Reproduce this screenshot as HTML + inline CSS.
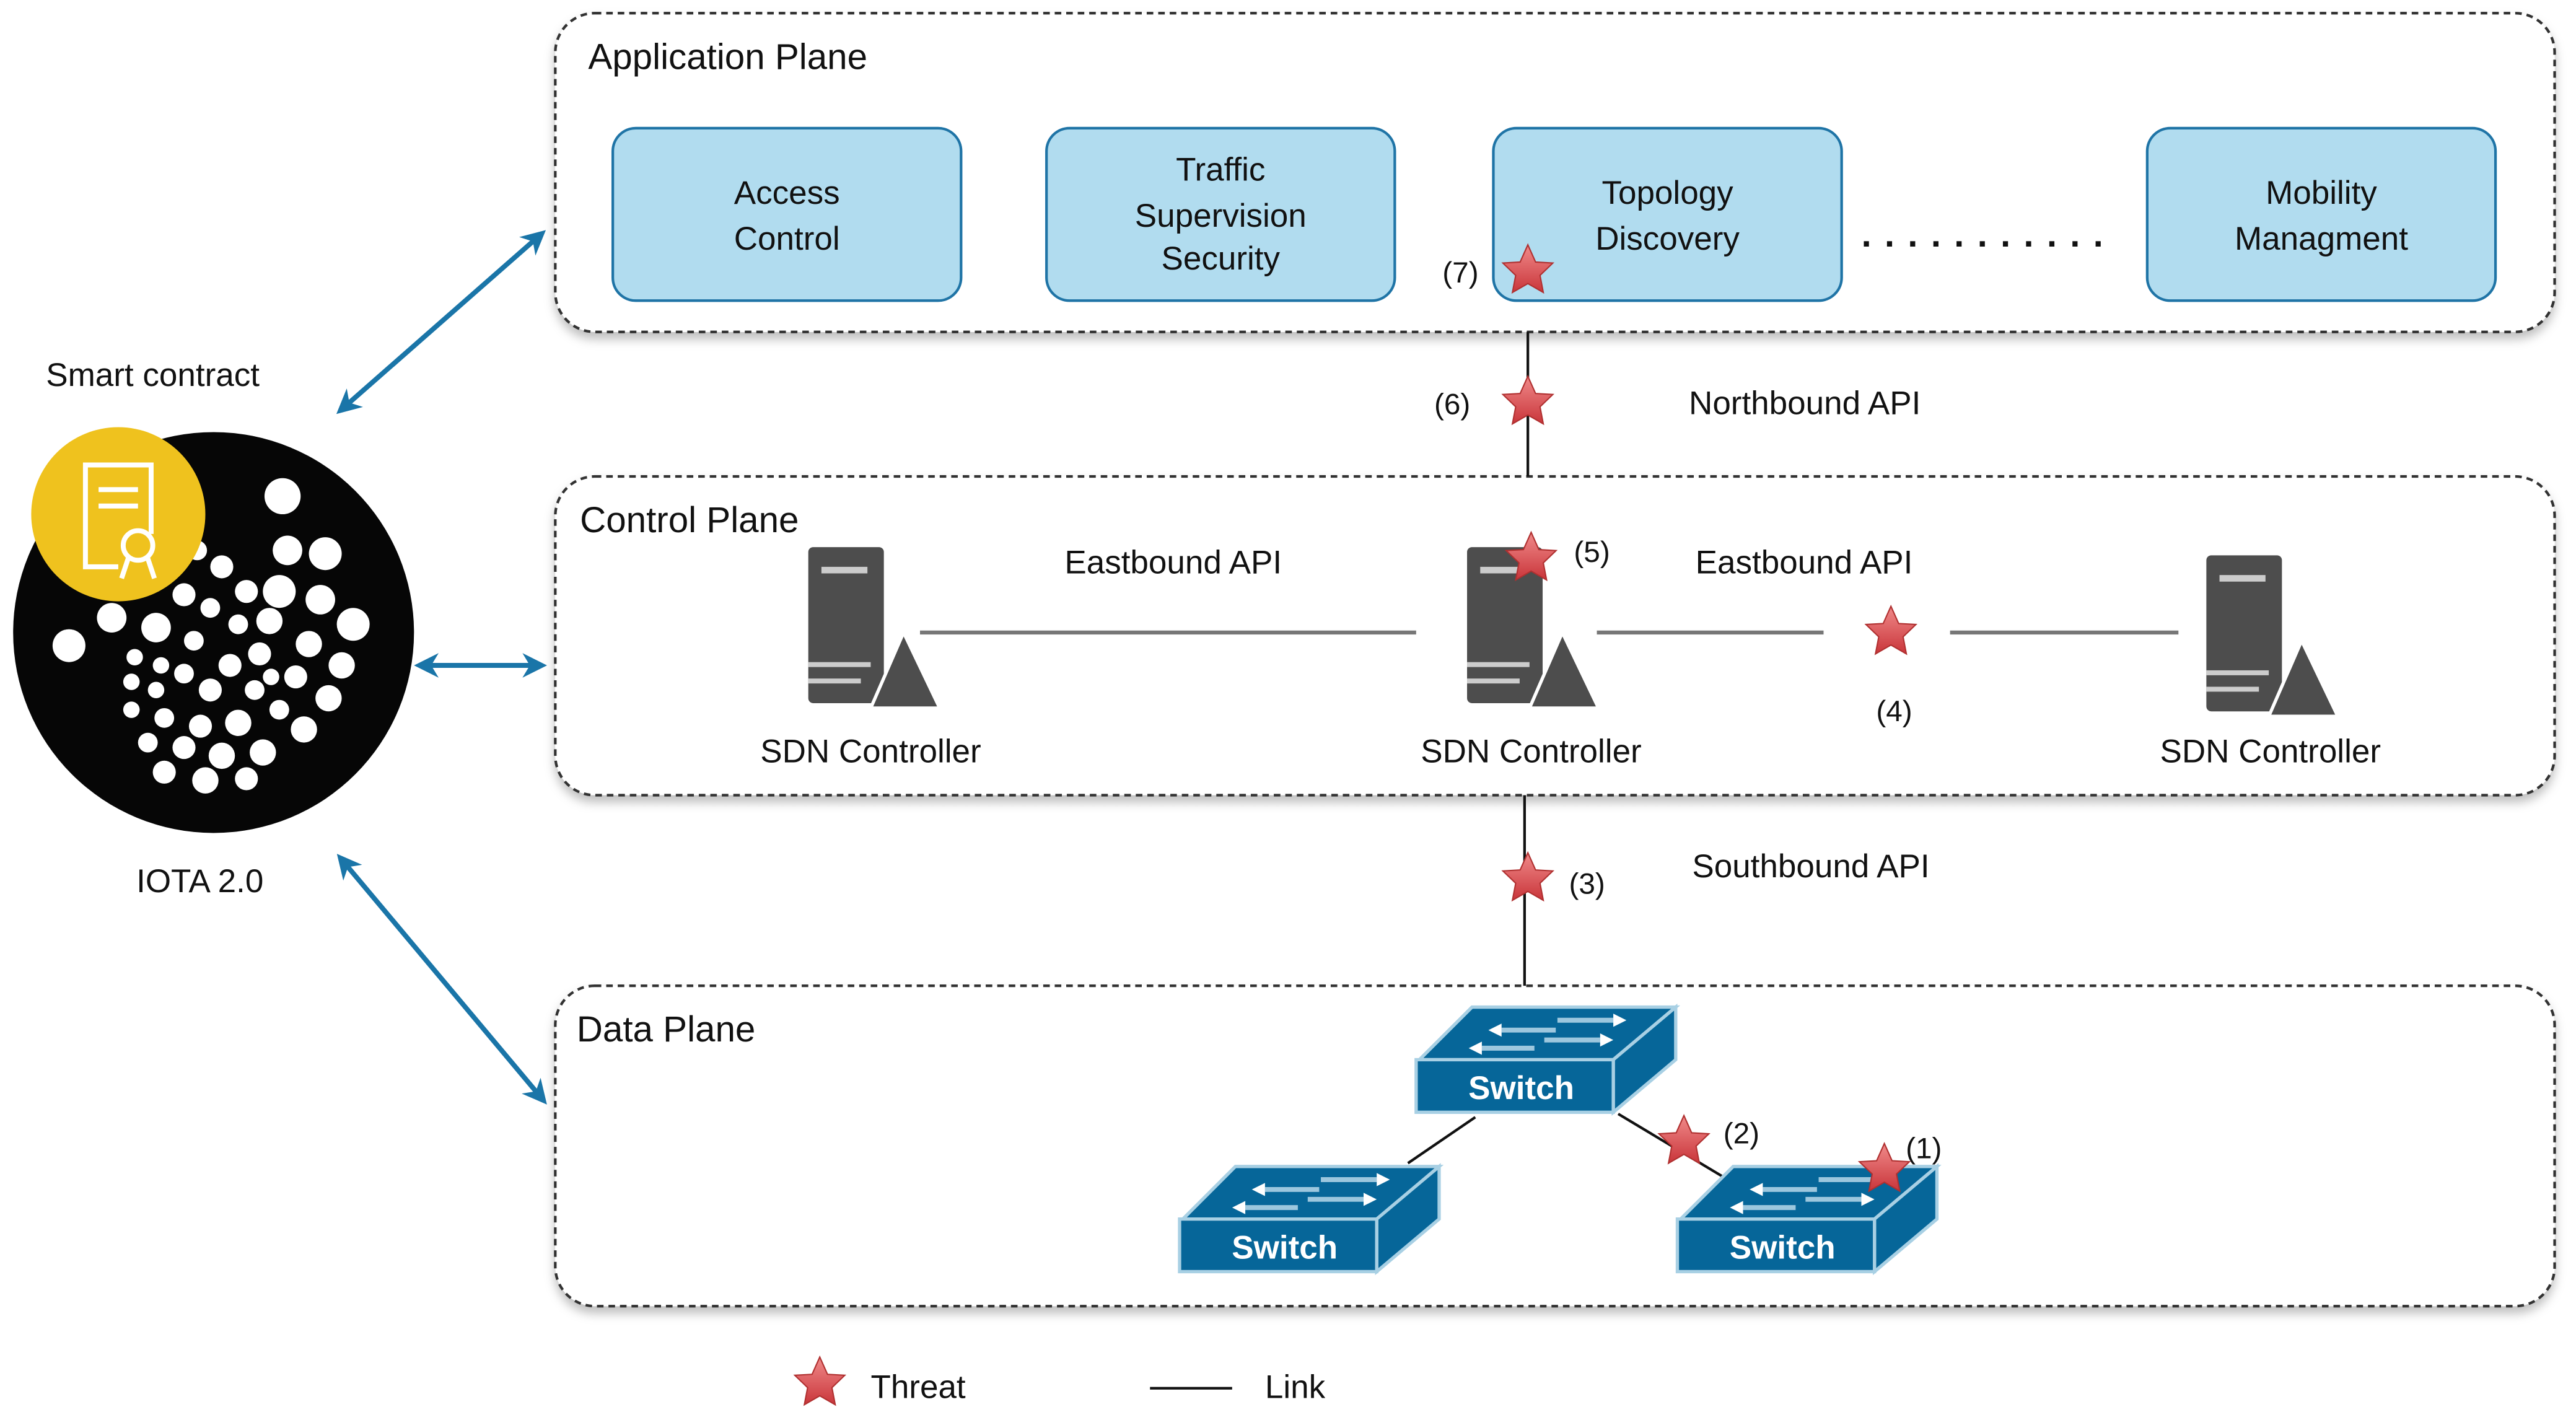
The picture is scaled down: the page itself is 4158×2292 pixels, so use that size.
<!DOCTYPE html>
<html><head><meta charset="utf-8"><style>
html,body{margin:0;padding:0;background:#fff;}
svg{display:block;}
text{font-family:"Liberation Sans",sans-serif;fill:#111;}
</style></head><body>
<svg width="4158" height="2292" viewBox="0 0 1568 864.3" xmlns="http://www.w3.org/2000/svg">
<defs>
<linearGradient id="sg" x1="0" y1="0" x2="0" y2="1"><stop offset="0" stop-color="#f08a8a"/><stop offset="1" stop-color="#c9353a"/></linearGradient>
<symbol id="star" viewBox="-17 -17 34 34" overflow="visible">
<polygon points="0,-16 4.7,-5.5 15.2,-4.9 7.4,2.6 9.4,13 0,7.6 -9.4,13 -7.4,2.6 -15.2,-4.9 -4.7,-5.5" fill="url(#sg)" stroke="#b03030" stroke-width="0.8"/>
</symbol>
<symbol id="srv" viewBox="0 0 80 100" overflow="visible">
<rect x="0" y="0" width="46" height="95" rx="3" fill="#4d4d4d"/>
<rect x="8" y="12" width="28" height="4" fill="#ccc"/>
<rect x="0" y="70" width="38" height="3" fill="#ccc"/>
<rect x="0" y="80" width="32" height="3" fill="#ccc"/>
<polygon points="38,98 58,52 80,98" fill="#4d4d4d" stroke="#fff" stroke-width="2"/>
</symbol>
<symbol id="sw" viewBox="0 0 160 70" overflow="visible">
<polygon points="2,34 34,2 158,2 120,34" fill="#066699" stroke="#a8d0e4" stroke-width="2"/>
<polygon points="120,34 158,2 158,34 120,66" fill="#066699" stroke="#a8d0e4" stroke-width="2"/>
<rect x="0" y="34" width="120" height="32" fill="#066699" stroke="#a8d0e4" stroke-width="2"/>
<g stroke="#9cc7de" stroke-width="3">
<line x1="86" y1="10" x2="120" y2="10"/><line x1="52" y1="16" x2="85" y2="16"/>
<line x1="78" y1="22" x2="112" y2="22"/><line x1="40" y1="27" x2="72" y2="27"/>
</g>
<g fill="#fff"><polygon points="120,6 128,10 120,14"/><polygon points="52,12 44,16 52,20"/><polygon points="112,18 120,22 112,26"/><polygon points="40,23 32,27 40,31"/></g>
<text x="64" y="58" text-anchor="middle" font-size="20" font-weight="bold" style="fill:#fff">Switch</text>
</symbol>
<marker id="ah" viewBox="0 0 10 10" refX="8" refY="5" markerWidth="5" markerHeight="5" orient="auto-start-reverse"><path d="M0,0 L10,5 L0,10 L3,5 Z" fill="#1a75a8"/></marker>
<filter id="sh"><feDropShadow dx="0" dy="4" stdDeviation="3" flood-color="#000" flood-opacity="0.25"/></filter>
</defs>

<g fill="#fff" stroke="#333" stroke-width="1.6" stroke-dasharray="4,3" filter="url(#sh)">
<rect x="338" y="8" width="1217" height="194" rx="24"/>
<rect x="338" y="290" width="1217" height="194" rx="24"/>
<rect x="338" y="600" width="1217" height="195" rx="24"/>
</g>
<text x="358" y="42" font-size="22">Application Plane</text>
<text x="353" y="324" font-size="22">Control Plane</text>
<text x="351" y="634" font-size="22">Data Plane</text>

<g fill="#b1dcef" stroke="#1f74a6" stroke-width="1.6">
<rect x="373" y="78" width="212" height="105" rx="14"/>
<rect x="637" y="78" width="212" height="105" rx="14"/>
<rect x="909" y="78" width="212" height="105" rx="14"/>
<rect x="1307" y="78" width="212" height="105" rx="14"/>
</g>
<g font-size="20" text-anchor="middle">
<text x="479" y="124">Access</text><text x="479" y="152">Control</text>
<text x="743" y="110">Traffic</text><text x="743" y="138">Supervision</text><text x="743" y="164">Security</text>
<text x="1015" y="124">Topology</text><text x="1015" y="152">Discovery</text>
<text x="1413" y="124">Mobility</text><text x="1413" y="152">Managment</text>
</g>
<text x="1133" y="150" font-size="22" font-weight="bold" letter-spacing="8">...........</text>

<g stroke="#111" stroke-width="1.6">
<line x1="930" y1="202" x2="930" y2="290"/>
<line x1="928" y1="484" x2="928" y2="600"/>
<line x1="898" y1="680" x2="857" y2="708"/>
<line x1="985" y1="678" x2="1050" y2="717"/>
</g>
<g stroke="#777" stroke-width="2.4">
<line x1="560" y1="385" x2="862" y2="385"/>
<line x1="972" y1="385" x2="1110" y2="385"/>
<line x1="1187" y1="385" x2="1326" y2="385"/>
</g>

<use href="#srv" x="492" y="333" width="80" height="100"/>
<use href="#srv" x="893" y="333" width="80" height="100"/>
<use href="#srv" x="1343" y="338" width="80" height="100"/>
<g font-size="20" text-anchor="middle">
<text x="530" y="464">SDN Controller</text>
<text x="932" y="464">SDN Controller</text>
<text x="1382" y="464">SDN Controller</text>
</g>
<g font-size="20">
<text x="648" y="349">Eastbound API</text>
<text x="1032" y="349">Eastbound API</text>
<text x="1028" y="252">Northbound API</text>
<text x="1030" y="534">Southbound API</text>
</g>

<use href="#sw" x="862" y="611" width="160" height="70"/>
<use href="#sw" x="718" y="708" width="160" height="70"/>
<use href="#sw" x="1021" y="708" width="160" height="70"/>

<use href="#star" x="913" y="148" width="34" height="34"/>
<use href="#star" x="913" y="228" width="34" height="34"/>
<use href="#star" x="915" y="323" width="34" height="34"/>
<use href="#star" x="1134" y="368" width="34" height="34"/>
<use href="#star" x="913" y="518" width="34" height="34"/>
<use href="#star" x="1008" y="678" width="34" height="34"/>
<use href="#star" x="1130" y="695" width="34" height="34"/>
<use href="#star" x="482" y="825" width="34" height="34"/>
<g font-size="18">
<text x="878" y="172">(7)</text>
<text x="873" y="252">(6)</text>
<text x="958" y="342">(5)</text>
<text x="1142" y="439">(4)</text>
<text x="955" y="544">(3)</text>
<text x="1049" y="696">(2)</text>
<text x="1160" y="705">(1)</text>
</g>

<text x="530" y="851" font-size="20">Threat</text>
<line x1="700" y1="845" x2="750" y2="845" stroke="#111" stroke-width="1.6"/>
<text x="770" y="851" font-size="20">Link</text>

<circle cx="130" cy="385" r="122" fill="#060606"/>
<g fill="#fff">
<circle cx="172" cy="302" r="11"/><circle cx="175" cy="335" r="9"/><circle cx="198" cy="337" r="10"/>
<circle cx="170" cy="360" r="10"/><circle cx="195" cy="365" r="9"/><circle cx="215" cy="380" r="10"/>
<circle cx="164" cy="378" r="8"/><circle cx="188" cy="392" r="8"/><circle cx="208" cy="405" r="8"/>
<circle cx="158" cy="398" r="7"/><circle cx="180" cy="412" r="7"/><circle cx="200" cy="425" r="8"/>
<circle cx="150" cy="360" r="7"/><circle cx="135" cy="345" r="7"/><circle cx="120" cy="335" r="6"/>
<circle cx="128" cy="370" r="6"/><circle cx="145" cy="380" r="6"/><circle cx="112" cy="362" r="7"/>
<circle cx="95" cy="382" r="9"/><circle cx="118" cy="390" r="6"/><circle cx="140" cy="405" r="7"/>
<circle cx="155" cy="420" r="6"/><circle cx="170" cy="432" r="6"/><circle cx="185" cy="444" r="8"/>
<circle cx="42" cy="393" r="10"/><circle cx="68" cy="376" r="9"/>
<circle cx="82" cy="400" r="5"/><circle cx="98" cy="405" r="5"/><circle cx="112" cy="410" r="6"/>
<circle cx="80" cy="415" r="5"/><circle cx="95" cy="420" r="5"/><circle cx="128" cy="420" r="7"/>
<circle cx="80" cy="432" r="5"/><circle cx="100" cy="437" r="6"/><circle cx="122" cy="442" r="7"/>
<circle cx="145" cy="440" r="8"/><circle cx="90" cy="452" r="6"/><circle cx="112" cy="455" r="7"/>
<circle cx="135" cy="460" r="8"/><circle cx="160" cy="458" r="8"/><circle cx="100" cy="470" r="7"/>
<circle cx="125" cy="475" r="8"/><circle cx="150" cy="474" r="7"/><circle cx="165" cy="412" r="5"/>
</g>
<circle cx="72" cy="313" r="53" fill="#efc21e"/>
<g fill="none" stroke="#fff" stroke-width="3">
<path d="M72,345 L52,345 L52,283 L92,283 L92,325"/>
<line x1="60" y1="298" x2="84" y2="298"/><line x1="60" y1="308" x2="84" y2="308"/>
<circle cx="84" cy="332" r="9"/>
<path d="M78,340 L74,352 M90,340 L94,352"/>
</g>
<text x="28" y="235" font-size="20">Smart contract</text>
<text x="83" y="543" font-size="20">IOTA 2.0</text>

<g stroke="#1a75a8" stroke-width="3" marker-start="url(#ah)" marker-end="url(#ah)">
<line x1="207" y1="250" x2="330" y2="142"/>
<line x1="255" y1="405" x2="330" y2="405"/>
<line x1="207" y1="522" x2="331" y2="670"/>
</g>
</svg>
</body></html>
